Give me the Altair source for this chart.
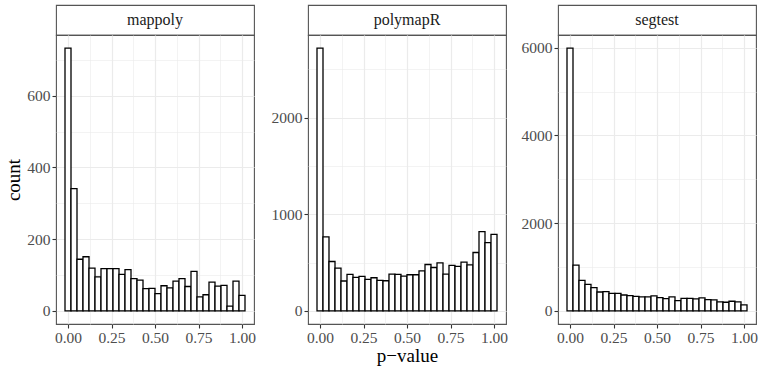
import altair as alt
import pandas as pd

FONT = "Liberation Serif"

# Histogram of p-values per method: 30 bins of width 1/29 centred on 0, 1/29, ..., 1
methods = ["mappoly", "polymapR", "segtest"]
n_bins = 30
mappoly_counts = [733, 341, 144, 151, 119, 95, 118, 118, 118, 102, 115, 90, 86, 62, 63,
                  48, 70, 64, 83, 90, 68, 110, 39, 45, 80, 69, 71, 13, 83, 43]
polymapR_counts = [2720, 765, 511, 443, 309, 377, 346, 357, 326, 343, 316, 312, 381, 377, 360,
                   374, 374, 415, 480, 449, 497, 381, 470, 460, 504, 477, 604, 820, 707, 792]
segtest_counts = [5990, 1042, 694, 604, 528, 430, 438, 400, 400, 362, 347, 332, 317, 317, 340,
                  302, 279, 317, 234, 287, 287, 272, 294, 257, 249, 204, 196, 219, 204, 136]

x_breaks = [0.0, 0.125, 0.25, 0.375, 0.5, 0.625, 0.75, 0.875, 1.0]
y_step = {"mappoly": 200, "polymapR": 1000, "segtest": 2000}
y_breaks = {
    "mappoly": [0, 100, 200, 300, 400, 500, 600, 700],
    "polymapR": [0, 500, 1000, 1500, 2000, 2500],
    "segtest": [0, 1000, 2000, 3000, 4000, 5000, 6000],
}
counts = {"mappoly": mappoly_counts, "polymapR": polymapR_counts, "segtest": segtest_counts}

W, H, STRIP_H = 198, 289, 30
GRID = "#EBEBEB"

binwidth = 1.0 / (n_bins - 1)
lo = [i * binwidth - binwidth / 2 for i in range(n_bins)]
hi = [i * binwidth + binwidth / 2 for i in range(n_bins)]
x_span = hi[-1] - lo[0]
x_scale = alt.Scale(domain=[lo[0] - 0.05 * x_span, hi[-1] + 0.05 * x_span], nice=False, zero=False)


def guide(breaks, minor_test, fmt, title):
    # major breaks get labels, ticks and a wider grid line; minor breaks only a thin grid line
    return alt.Axis(
        values=breaks,
        format=fmt,
        title=title,
        grid=True,
        gridColor=GRID,
        gridWidth={"condition": {"test": minor_test, "value": 0.6}, "value": 1.2},
        tickOpacity={"condition": {"test": minor_test, "value": 0}, "value": 1},
        labelExpr=f"({minor_test}) ? '' : datum.label",
    )


def panel(name, y_title, x_title):
    c = counts[name]
    df = pd.DataFrame({"lo": lo, "hi": hi, "count": c, "base": [0] * n_bins})
    top = max(c)
    y_scale = alt.Scale(domain=[-0.05 * top, 1.05 * top], nice=False, zero=False)
    half = y_step[name] / 2
    x_axis = guide(x_breaks, "round(datum.value * 8) % 2 == 1", ".2f", x_title)
    y_axis = guide(y_breaks[name], f"round(datum.value / {half}) % 2 == 1", "d", y_title)

    plot = alt.Chart(df).mark_bar(fill="white", stroke="black", strokeWidth=1.3).encode(
        x=alt.X("lo:Q", scale=x_scale, axis=x_axis),
        x2="hi:Q",
        y=alt.Y("count:Q", scale=y_scale, axis=y_axis),
        y2="base:Q",
    ).properties(width=W, height=H)

    strip = alt.Chart(pd.DataFrame({"label": [name]})).mark_text(
        font=FONT, fontSize=16, color="#1A1A1A", baseline="middle", align="center"
    ).encode(text="label:N", x=alt.value(W / 2), y=alt.value(STRIP_H / 2)).properties(
        width=W, height=STRIP_H)

    return alt.vconcat(strip, plot, spacing=0, bounds="flush")


left_pair = alt.hconcat(
    panel("mappoly", "count", None),
    panel("polymapR", None, "p\u2212value"),
    spacing=13,
)
chart = alt.hconcat(
    left_pair,
    panel("segtest", None, None),
    spacing=11,
).properties(
    padding={"left": 4, "top": 4, "right": 0, "bottom": 0},
    background="white",
).configure_view(
    stroke="#555555", strokeWidth=1.1, fill="white"
).configure_axis(
    domain=False,
    tickColor="#333333",
    tickSize=4,
    tickWidth=1.1,
    labelFont=FONT,
    labelFontSize=15.5,
    labelColor="#4D4D4D",
    labelPadding=2,
    titleFont=FONT,
    titleFontSize=19,
    titleFontWeight="normal",
    titleColor="black",
).configure_axisY(
    titlePadding=3,
).configure_axisX(
    titlePadding=1,
)

chart.save("out.html", embed_options={"renderer": "svg", "actions": False})
